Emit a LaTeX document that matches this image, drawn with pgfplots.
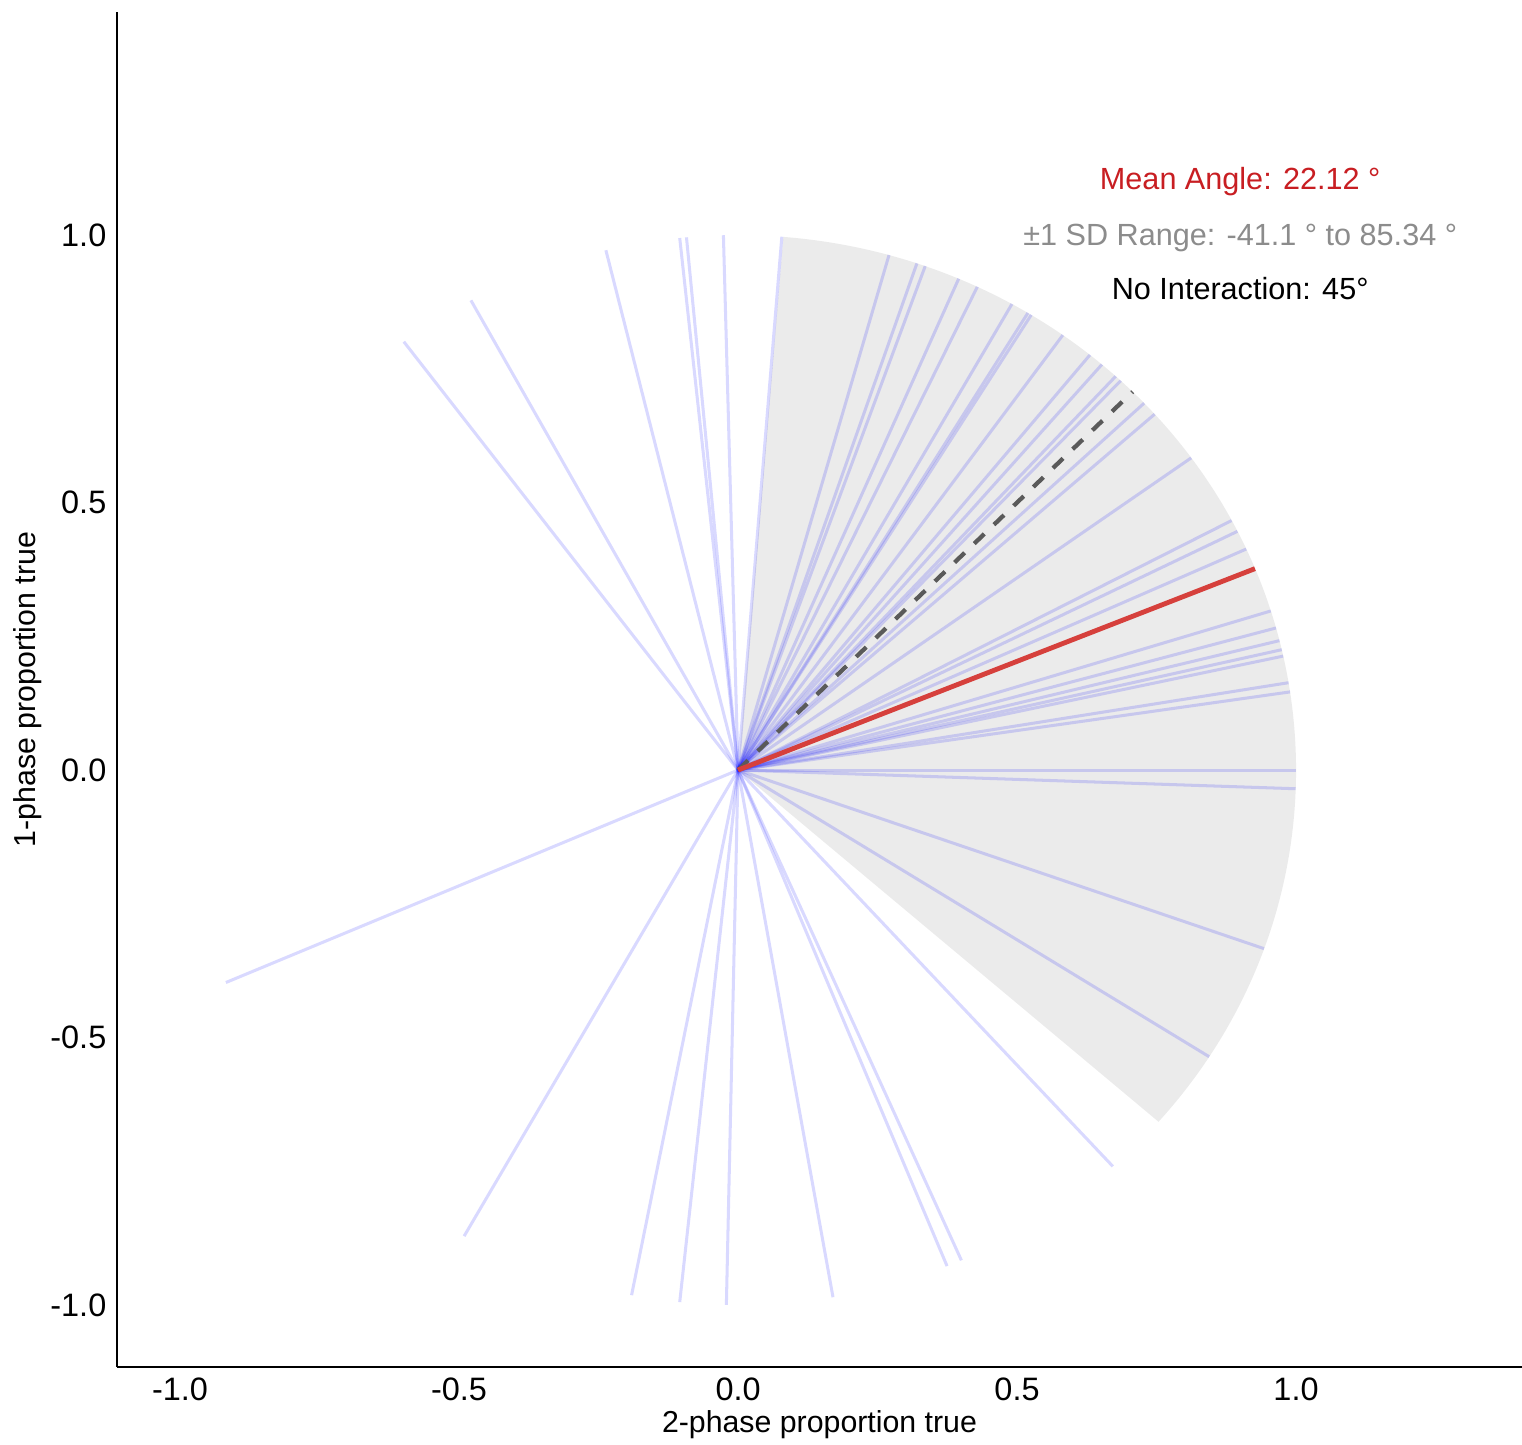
\documentclass[border=0pt]{standalone}
\usepackage{fontspec}
\setmainfont{Liberation Sans}
\usepackage{pgfplots}
\pgfplotsset{compat=1.18}
\usepackage{pgfplotstable}
\definecolor{sectorgray}{RGB}{235,235,235}
\definecolor{vecblue}{RGB}{0,0,255}
\definecolor{meanred}{RGB}{214,64,60}
\definecolor{txtred}{RGB}{200,30,34}
\definecolor{txtgray}{RGB}{140,140,140}
\definecolor{dashgray}{RGB}{90,90,90}

% unit vectors (cos, sin of each observed angle)
\pgfplotstableread{
x y u v
0 0 -0.5990 0.8007
0 0 -0.4787 0.8780
0 0 -0.2368 0.9716
0 0 -0.1045 0.9945
0 0 -0.0924 0.9957
0 0 -0.0262 0.9997
0 0 0.0785 0.9969
0 0 0.2706 0.9627
0 0 0.3206 0.9472
0 0 0.3355 0.9421
0 0 0.3955 0.9185
0 0 0.4289 0.9033
0 0 0.4909 0.8712
0 0 0.5195 0.8545
0 0 0.5255 0.8508
0 0 0.5821 0.8131
0 0 0.6307 0.7760
0 0 0.6521 0.7581
0 0 0.6769 0.7361
0 0 0.6858 0.7278
0 0 0.7278 0.6858
0 0 0.7466 0.6652
0 0 0.8121 0.5835
0 0 0.8846 0.4664
0 0 0.8949 0.4462
0 0 0.9107 0.4131
0 0 0.9548 0.2974
0 0 0.9641 0.2656
0 0 0.9703 0.2419
0 0 0.9744 0.2250
0 0 0.9770 0.2130
0 0 0.9866 0.1633
0 0 0.9893 0.1461
0 0 1.0000 0.0000
0 0 0.9994 -0.0349
0 0 0.9426 -0.3338
0 0 0.8443 -0.5358
0 0 0.6717 -0.7408
0 0 0.4003 -0.9164
0 0 0.3746 -0.9272
0 0 0.1702 -0.9854
0 0 -0.0209 -0.9998
0 0 -0.1045 -0.9945
0 0 -0.1908 -0.9816
0 0 -0.4909 -0.8712
0 0 -0.9178 -0.3971
}\vectors

\begin{document}
\begin{tikzpicture}
\begin{axis}[
  name=ax,
  x=184.14pt, y=176.55pt,
  xmin=-1.113, xmax=1.405, ymin=-1.116, ymax=1.417,
  axis x line*=bottom, axis y line*=left,
  axis line style={line width=0.8pt, black},
  xtick={-1,-0.5,0,0.5,1}, ytick={-1,-0.5,0,0.5,1},
  major tick length=0pt,
  /pgf/number format/assume math mode=true,
  /pgf/number format/fixed, /pgf/number format/fixed zerofill, /pgf/number format/precision=1,
  ticklabel style={font=\fontsize{10.7}{12}\selectfont, text=black},
  xlabel={2-phase proportion true}, ylabel={1-phase proportion true},
  label style={font=\fontsize{11}{13}\selectfont},
  every axis x label/.style={at={(rel axis cs:0.5,0)}, anchor=center, yshift=-19.1pt},
  every axis y label/.style={at={(rel axis cs:0,0.5)}, xshift=-29.4pt, rotate=90, anchor=center},
  clip=false,
]
\fill[sectorgray] (axis cs:0,0) -- (axis cs:0.7536,-0.6574) arc[start angle=-41.1, end angle=85.34, x radius=184.14pt, y radius=176.55pt] -- cycle;

\addplot[quiver={u=\thisrow{u}, v=\thisrow{v}}, draw=vecblue, draw opacity=0.15, line width=1pt] table {\vectors};

\addplot[dashgray, line width=1.4pt, dash pattern=on 4.6pt off 4.4pt] coordinates {(0,0) (0.7071,0.7071)};
\addplot[meanred, line width=1.6pt] coordinates {(0,0) (0.9264,0.3765)};

\node[txtred, font=\fontsize{10.1}{12}\selectfont] at (axis cs:0.9,1.1) {Mean Angle: 22.12 °};
\node[txtgray, font=\fontsize{10.1}{12}\selectfont] at (axis cs:0.9,0.995) {±1 SD Range: -41.1 ° to 85.34 °};
\node[black, font=\fontsize{10.1}{12}\selectfont] at (axis cs:0.9,0.9) {No Interaction: 45°};
\end{axis}
\pgfresetboundingbox
\path ([shift={(-38.61pt,-25.41pt)}]ax.south west) rectangle ([shift={(0pt,3.96pt)}]ax.north east);
\end{tikzpicture}
\end{document}
